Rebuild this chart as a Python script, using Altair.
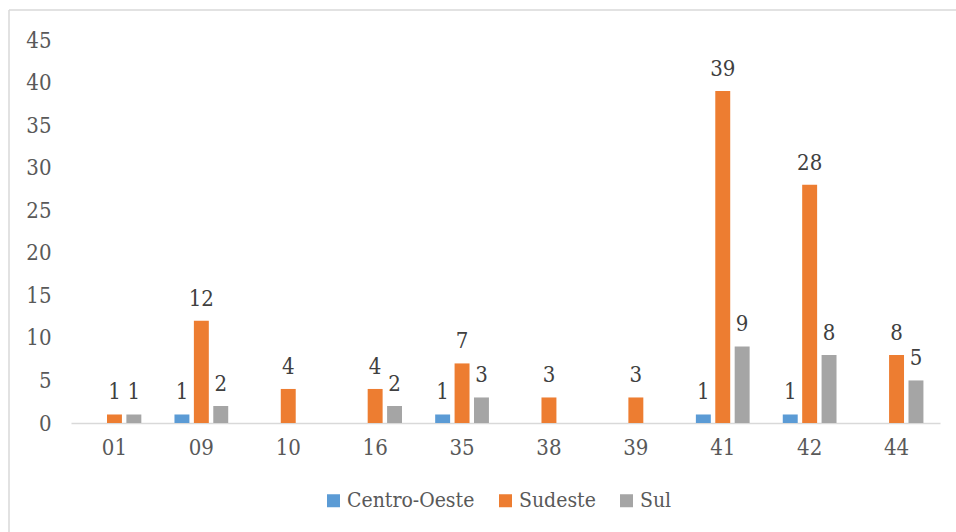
import altair as alt
import pandas as pd

categories = ["01", "09", "10", "16", "35", "38", "39", "41", "42", "44"]
series = ["Centro-Oeste", "Sudeste", "Sul"]
colors = ["#5B9BD5", "#ED7D31", "#A5A5A5"]
centro_oeste = [None, 1, None, None, 1, None, None, 1, 1, None]
sudeste = [1, 12, 4, 4, 7, 3, 3, 39, 28, 8]
sul = [1, 2, None, 2, 3, None, None, 9, 8, 5]

rows = []
for name, vals in zip(series, [centro_oeste, sudeste, sul]):
    for c, v in zip(categories, vals):
        if v is not None:
            rows.append({"cat": c, "serie": name, "valor": v})
df = pd.DataFrame(rows)

FONT = "DejaVu Serif Condensed, DejaVu Serif"

x = alt.X("cat:N", sort=categories, title=None,
          scale=alt.Scale(domain=categories, paddingInner=0.33, paddingOuter=0.165),
          axis=alt.Axis(labelAngle=0, labelFontSize=22, labelColor="#595959", labelFont=FONT,
                        ticks=False, labelPadding=14, domainColor="#D9D9D9", domainWidth=1.5,
                        grid=False))
xo = alt.XOffset("serie:N", sort=series,
                 scale=alt.Scale(domain=series, paddingInner=0.23, paddingOuter=0.115))
y = alt.Y("valor:Q", title=None,
          scale=alt.Scale(domain=[0, 45], nice=False),
          axis=alt.Axis(values=list(range(0, 46, 5)), labelFontSize=22, labelColor="#595959",
                        labelFont=FONT, ticks=False, domain=False, grid=False, labelPadding=20))

base = alt.Chart(df)

bars = base.mark_bar().encode(
    x=x, xOffset=xo, y=y,
    color=alt.Color("serie:N", sort=series,
                    scale=alt.Scale(domain=series, range=colors),
                    legend=alt.Legend(title=None, orient="none", legendX=252, legendY=450,
                                      direction="horizontal", columns=3, symbolType="square",
                                      symbolSize=169, symbolStrokeWidth=0, labelFontSize=21,
                                      labelFont=FONT, labelColor="#595959", labelOffset=3,
                                      columnPadding=20, padding=0)),
)

labels = base.mark_text(font=FONT, fontSize=22, color="#404040", baseline="alphabetic", dy=-15).encode(
    x=x, xOffset=xo, y=y, text=alt.Text("valor:Q")
)

frame_df = pd.DataFrame({"k": [0]})
left_border = alt.Chart(frame_df).mark_rule(color="#D9D9D9", strokeWidth=1.5).encode(
    x=alt.value(-62), y=alt.value(-30), y2=alt.value(492))
top_border = alt.Chart(frame_df).mark_rule(color="#D9D9D9", strokeWidth=1.5).encode(
    x=alt.value(-62), x2=alt.value(885), y=alt.value(-30))

chart = alt.layer(bars, labels, left_border, top_border).properties(
    width=869, height=383,
    autosize=alt.AutoSizeParams(type="none"),
    padding={"left": 71, "top": 40, "right": 16, "bottom": 109},
    background="white",
).configure(font=FONT).configure_view(strokeWidth=0, stroke="transparent")

chart.save("out.html", embed_options={"renderer": "svg", "actions": False})
